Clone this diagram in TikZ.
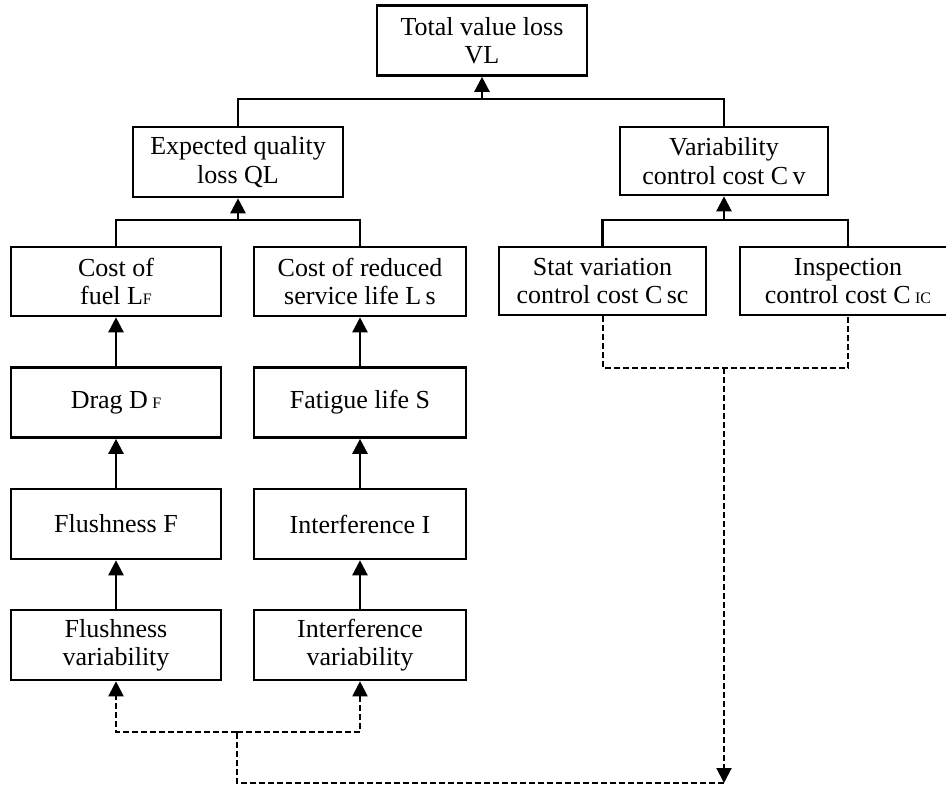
\documentclass[tikz,border=0pt]{standalone}
\usepackage{fontspec}
\setmainfont{Liberation Serif}
\usetikzlibrary{arrows.meta}

% small capital letters used as subscripts
\newcommand{\subcap}[1]{{\fontsize{16}{16}\selectfont #1}}

\begin{document}
\begin{tikzpicture}[x=1pt,y=-1pt,
  box/.style={draw, line width=2.6pt, align=center, inner sep=0pt,
    minimum width=210pt, minimum height=70pt,
    font=\fontsize{26}{28.3}\selectfont},
  link/.style={line width=2.4pt},
  uparrow/.style={line width=2.4pt, -{Triangle[width=15pt,length=15pt]}},
  dlink/.style={line width=2pt, dash pattern=on 6pt off 3pt},
  darrow/.style={line width=2pt, dash pattern=on 6pt off 3pt,
    -{Triangle[width=15pt,length=15pt]}}]

\useasboundingbox (0,0) rectangle (946,787);

% top level
\node[box] (vl) at (482,40.5) {Total value loss\\VL};

% second level
\node[box] (ql) at (238,162) {Expected quality\\loss QL};
\node[box, minimum width=208pt, minimum height=68pt] (cv) at (724,161) {Variability\\control cost C\,v};

% third level
\node[box, minimum height=69pt] (lf) at (116,281.5) {Cost of\\fuel L\subcap{F}};
\node[box, minimum width=212pt, minimum height=69pt] (ls) at (360,281.5) {Cost of reduced\\service life L\,s};
\node[box, minimum width=207pt, minimum height=68pt] (csc) at (602.5,281) {Stat variation\\control cost C\,sc};
\node[box, minimum width=216pt, minimum height=68pt] (cic) at (848,281) {Inspection\\control cost C\,\subcap{IC}};

% left branch
\node[box] (drag) at (116,402.5) {Drag D\,\subcap{F}};
\node[box] (flf) at (116,524) {Flushness F};
\node[box] (flv) at (116,645) {Flushness\\variability};

% right branch
\node[box, minimum width=212pt] (fat) at (360,402.5) {Fatigue life S};
\node[box, minimum width=212pt] (intf) at (360,524) {Interference I};
\node[box, minimum width=212pt] (intv) at (360,645) {Interference\\variability};

% junction points
\coordinate (busA) at (482,99);
\coordinate (busB) at (238,220);
\coordinate (busC) at (724,220);
\coordinate (dA) at (237,732);
\coordinate (dB) at (237,783);
\coordinate (dC) at (724,368);
\coordinate (dD) at (724,783);

% tree connectors
\draw[link] (ql.north) |- (busA) -| (cv.north);
\draw[uparrow] (busA) -- (vl.south);
\draw[link] (lf.north) |- (busB) -| (ls.north);
\draw[uparrow] (busB) -- (ql.south);
\draw[link] (csc.north) |- (busC) -| (cic.north);
\draw[uparrow] (busC) -- (cv.south);

\draw[uparrow] (drag) -- (lf);
\draw[uparrow] (flf) -- (drag);
\draw[uparrow] (flv) -- (flf);
\draw[uparrow] (fat) -- (ls);
\draw[uparrow] (intf) -- (fat);
\draw[uparrow] (intv) -- (intf);

% dashed feedback loop
\draw[dlink] (csc.south) |- (dC) -| (cic.south);
\draw[darrow] (dC) -- (dD);
\draw[dlink] (dD) -- (dB) -- (dA);
\draw[darrow] (dA) -| (flv.south);
\draw[darrow] (dA) -| (intv.south);
\end{tikzpicture}
\end{document}
